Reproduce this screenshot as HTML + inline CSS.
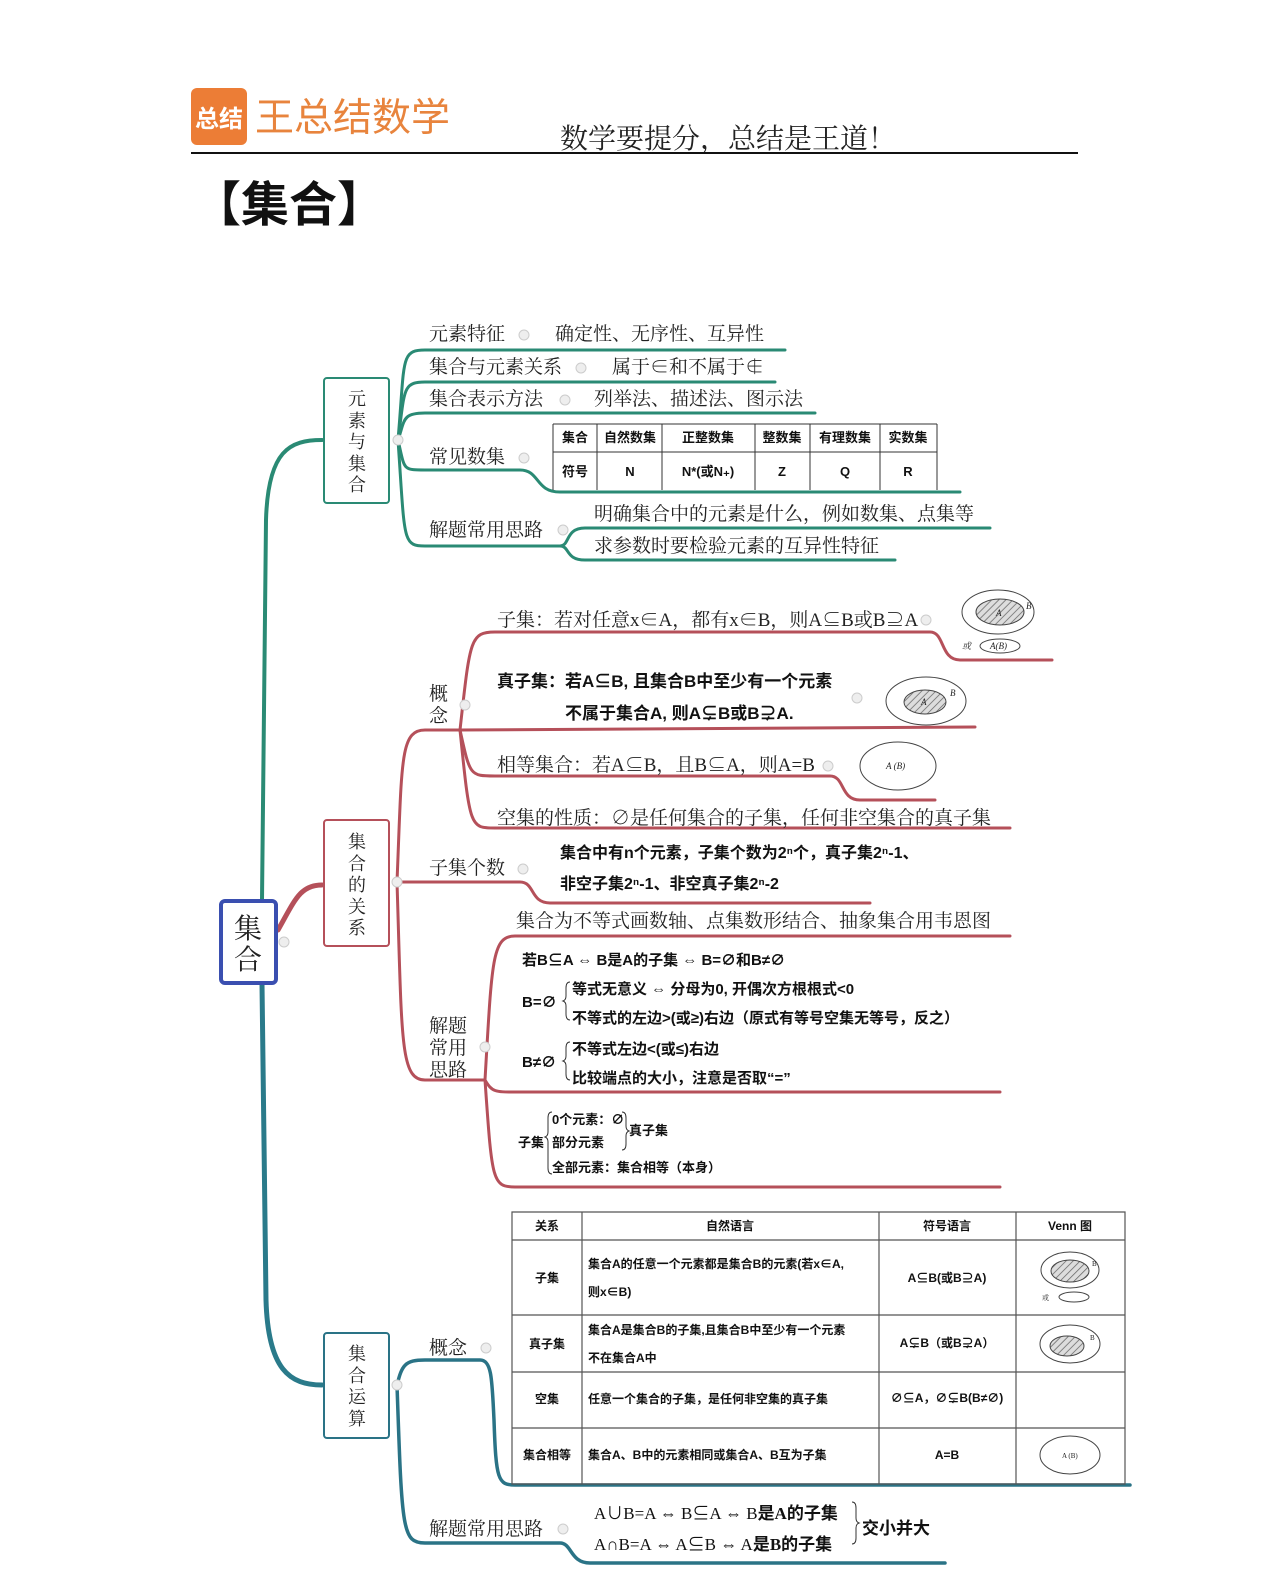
<!DOCTYPE html>
<html><head><meta charset="utf-8"><style>
html,body{margin:0;padding:0;background:#fff;}
svg{display:block;}
.s{font-family:"Liberation Serif","Noto Serif CJK SC",serif;fill:#222;}
.b{font-family:"Liberation Sans","Noto Sans CJK SC",sans-serif;font-weight:bold;fill:#111;}
</style></head><body>
<svg width="1279" height="1580" viewBox="0 0 1279 1580" xmlns="http://www.w3.org/2000/svg">
<defs>
<pattern id="h" patternUnits="userSpaceOnUse" width="5" height="5" patternTransform="rotate(45)"><rect width="5" height="5" fill="#ddd"/><line x1="0" y1="0" x2="0" y2="5" stroke="#666" stroke-width="1.5"/></pattern>
</defs>
<!-- header -->
<rect x="191" y="88" width="56" height="57" rx="6" fill="#ec7d36"/>
<text x="219" y="127" text-anchor="middle" font-size="24" fill="#fff" font-family="'Noto Sans CJK SC',sans-serif" font-weight="bold">总结</text>
<text x="255" y="131" font-size="39" fill="#e8843d" font-family="'Noto Sans CJK SC',sans-serif">王总结数学</text>
<text x="560" y="148" font-size="28" class="s">数学要提分，总结是王道！</text>
<line x1="191" y1="153" x2="1078" y2="153" stroke="#111" stroke-width="2"/>
<text x="193" y="221" font-size="48" font-weight="bold" fill="#111" font-family="'Noto Sans CJK SC',sans-serif">【集合】</text>

<!-- trunk -->
<g fill="none" stroke-linecap="round">
<path d="M322 440 C290 440 268 450 266 520 L262 900" stroke="#2a8a74" stroke-width="4"/>
<path d="M262 984 L266 1300 C268 1370 290 1385 322 1385" stroke="#2a7a8a" stroke-width="5"/>
<path d="M278 930 C295 900 300 885 322 885" stroke="#b5505a" stroke-width="5"/>

<g stroke="#2a8a74" stroke-width="3">
<path d="M398 440 C405 360 400 350 425 350 L785 350"/>
<path d="M398 440 C405 390 402 382 425 382 L775 382"/>
<path d="M398 440 C405 420 402 413 425 413 L815 413"/>
<path d="M398 440 C405 470 402 470 425 470 L520 470 C540 470 535 492 560 492 L960 492"/>
<path d="M398 440 C405 540 402 546 425 546 L560 546"/>
<path d="M560 546 C570 546 565 528 585 528 L990 528"/>
<path d="M560 546 C570 546 565 560 585 560 L895 560"/>
</g>

<g stroke="#b5505a" stroke-width="3">
<path d="M397 882 C402 760 400 730 425 730 L460 730"/>
<path d="M460 730 C470 640 470 632 495 632 L930 632 C945 632 940 660 960 660 L1052 660"/>
<path d="M460 730 L975 727"/>
<path d="M460 730 C470 776 470 776 495 776 L830 776 C845 776 840 800 860 800 L935 800"/>
<path d="M460 730 C470 828 470 828 495 828 L1010 828"/>
<path d="M397 882 L520 882 C535 882 530 903 550 903 L870 903"/>
<path d="M397 882 C402 1040 400 1080 425 1080 L485 1080"/>
<path d="M485 1080 C492 960 492 936 515 936 L1010 936"/>
<path d="M485 1080 C492 1092 495 1092 515 1092 L1000 1092"/>
<path d="M485 1080 C492 1180 492 1187 515 1187 L1000 1187"/>
</g>

<g stroke="#2a7386" stroke-width="3.5">
<path d="M397 1385 C402 1365 405 1360 425 1360 L480 1360 C492 1360 492 1380 494 1420 C496 1480 498 1485 515 1485 L1130 1485"/>
<path d="M397 1385 C402 1530 402 1543 425 1543 L560 1543 C572 1543 570 1563 590 1563 L945 1563"/>
</g>
</g>

<g fill="#eee" stroke="#ccc" stroke-width="1">
<circle cx="398" cy="440" r="5"/><circle cx="524" cy="335" r="5"/><circle cx="581" cy="368" r="5"/><circle cx="565" cy="400" r="5"/><circle cx="524" cy="458" r="5"/><circle cx="563" cy="530" r="5"/>
<circle cx="397" cy="882" r="5"/><circle cx="465" cy="705" r="5"/><circle cx="926" cy="620" r="5"/><circle cx="857" cy="698" r="5"/><circle cx="828" cy="766" r="5"/><circle cx="523" cy="869" r="5"/><circle cx="485" cy="1047" r="5"/>
<circle cx="284" cy="942" r="5"/><circle cx="397" cy="1385" r="5"/><circle cx="486" cy="1348" r="5"/><circle cx="563" cy="1529" r="5"/>
</g>

<rect x="221" y="901" width="55" height="82" rx="4" fill="#fff" stroke="#3a4fb0" stroke-width="4"/>
<text x="248" y="938" text-anchor="middle" font-size="28" class="s">集</text>
<text x="248" y="969" text-anchor="middle" font-size="28" class="s">合</text>
<rect x="324" y="378" width="65" height="125" rx="3" fill="#fff" stroke="#2a8a74" stroke-width="2"/>
<g class="s" font-size="18" text-anchor="middle"><text x="357" y="405">元</text><text x="357" y="427">素</text><text x="357" y="448">与</text><text x="357" y="470">集</text><text x="357" y="491">合</text></g>
<rect x="324" y="820" width="65" height="126" rx="3" fill="#fff" stroke="#b5505a" stroke-width="2"/>
<g class="s" font-size="18" text-anchor="middle"><text x="357" y="848">集</text><text x="357" y="870">合</text><text x="357" y="891">的</text><text x="357" y="913">关</text><text x="357" y="934">系</text></g>
<rect x="324" y="1333" width="65" height="105" rx="3" fill="#fff" stroke="#2a7386" stroke-width="2"/>
<g class="s" font-size="18" text-anchor="middle"><text x="357" y="1360">集</text><text x="357" y="1382">合</text><text x="357" y="1403">运</text><text x="357" y="1425">算</text></g>

<g class="s" font-size="19">
<text x="429" y="340">元素特征</text><text x="555" y="340">确定性、无序性、互异性</text>
<text x="429" y="373">集合与元素关系</text><text x="612" y="373">属于∈和不属于∉</text>
<text x="429" y="405">集合表示方法</text><text x="594" y="405">列举法、描述法、图示法</text>
<text x="429" y="463">常见数集</text>
<text x="429" y="536">解题常用思路</text>
<text x="594" y="520">明确集合中的元素是什么，例如数集、点集等</text>
<text x="594" y="552">求参数时要检验元素的互异性特征</text>
</g>
<g stroke="#333" stroke-width="1" fill="none">
<path d="M553 424 H937 M553 452 H937 M553 424 V490 M597 424 V490 M662 424 V490 M755 424 V490 M810 424 V490 M880 424 V490 M937 424 V490"/>
</g>
<g class="b" font-size="13" text-anchor="middle">
<text x="575" y="442">集合</text><text x="630" y="442">自然数集</text><text x="708" y="442">正整数集</text><text x="782" y="442">整数集</text><text x="845" y="442">有理数集</text><text x="908" y="442">实数集</text>
<text x="575" y="476">符号</text><text x="630" y="476">N</text><text x="708" y="476">N*(或N₊)</text><text x="782" y="476">Z</text><text x="845" y="476">Q</text><text x="908" y="476">R</text>
</g>

<g class="s" font-size="19">
<text x="429" y="700">概</text><text x="429" y="722">念</text>
<text x="497" y="626">子集：若对任意x∈A，都有x∈B，则A⊆B或B⊇A</text>
<text x="497" y="771">相等集合：若A⊆B，且B⊆A，则A=B</text>
<text x="497" y="824">空集的性质：∅是任何集合的子集，任何非空集合的真子集</text>
<text x="429" y="874">子集个数</text>
<text x="516" y="927">集合为不等式画数轴、点集数形结合、抽象集合用韦恩图</text>
<text x="429" y="1032">解题</text><text x="429" y="1054">常用</text><text x="429" y="1076">思路</text>
</g>
<g class="b" font-size="17">
<text x="497" y="687">真子集：若A⊆B, 且集合B中至少有一个元素</text>
<text x="565" y="719">不属于集合A, 则A⊊B或B⊋A.</text>
<text x="560" y="858" font-size="16">集合中有n个元素，子集个数为2ⁿ个，真子集2ⁿ-1、</text>
<text x="560" y="889" font-size="16">非空子集2ⁿ-1、非空真子集2ⁿ-2</text>
</g>
<g class="b" font-size="15">
<text x="522" y="965">若B⊆A ⇔ B是A的子集 ⇔ B=∅和B≠∅</text>
<text x="522" y="1007">B=∅</text>
<text x="572" y="994">等式无意义 ⇔ 分母为0, 开偶次方根根式&lt;0</text>
<text x="572" y="1023">不等式的左边&gt;(或≥)右边（原式有等号空集无等号，反之）</text>
<text x="522" y="1067">B≠∅</text>
<text x="572" y="1054">不等式左边&lt;(或≤)右边</text>
<text x="572" y="1083">比较端点的大小，注意是否取“=”</text>
<text x="518" y="1147" font-size="13">子集</text>
<text x="552" y="1124" font-size="13">0个元素：∅</text>
<text x="552" y="1147" font-size="13">部分元素</text>
<text x="629" y="1135" font-size="13">真子集</text>
<text x="552" y="1172" font-size="13">全部元素：集合相等（本身）</text>
</g>
<g fill="none" stroke="#333" stroke-width="1">
<path d="M570 982 q-4 0 -4 6 v8 q0 4 -3 5 q3 1 3 5 v8 q0 6 4 6"/>
<path d="M570 1042 q-4 0 -4 6 v8 q0 4 -3 5 q3 1 3 5 v8 q0 6 4 6"/>
<path d="M552 1112 q-4 0 -4 6 v14 q0 4 -3 5 q3 1 3 5 v26 q0 6 4 6"/>
<path d="M622 1112 q4 0 4 6 v8 q0 4 3 5 q-3 1 -3 5 v8 q0 6 -4 6"/>
</g>
<g fill="none" stroke="#444" stroke-width="1">
<ellipse cx="998" cy="612" rx="36" ry="22"/><ellipse cx="1000" cy="612" rx="24" ry="13" fill="url(#h)"/>
<ellipse cx="1000" cy="646" rx="20" ry="7"/>
<ellipse cx="926" cy="701" rx="40" ry="24"/><ellipse cx="925" cy="702" rx="21" ry="12" fill="url(#h)"/>
<ellipse cx="898" cy="766" rx="38" ry="24"/>
</g>
<g class="s" font-size="9" font-style="italic"><text x="1026" y="609">B</text><text x="996" y="616">A</text><text x="962" y="649">或</text><text x="990" y="649">A(B)</text><text x="950" y="696">B</text><text x="921" y="705">A</text><text x="886" y="769">A (B)</text></g>

<g class="s" font-size="19"><text x="429" y="1354">概念</text><text x="429" y="1535">解题常用思路</text></g>
<g fill="none" stroke="#555" stroke-width="1.2">
<path d="M512 1212 H1125 V1484 H512 Z M512 1240 H1125 M512 1315 H1125 M512 1372 H1125 M512 1428 H1125 M582 1212 V1484 M879 1212 V1484 M1016 1212 V1484"/>
</g>
<g class="b" font-size="12" text-anchor="middle" fill="#333">
<text x="547" y="1230">关系</text><text x="730" y="1230">自然语言</text><text x="947" y="1230">符号语言</text><text x="1070" y="1230">Venn 图</text>
<text x="547" y="1282">子集</text><text x="547" y="1348">真子集</text><text x="547" y="1403">空集</text><text x="547" y="1459">集合相等</text>
<text x="947" y="1282">A⊆B(或B⊇A)</text><text x="947" y="1347">A⊊B（或B⊋A）</text><text x="947" y="1402">∅⊆A，∅⊊B(B≠∅)</text><text x="947" y="1459">A=B</text>
</g>
<g class="b" font-size="12" fill="#333">
<text x="588" y="1268">集合A的任意一个元素都是集合B的元素(若x∈A,</text>
<text x="588" y="1296">则x∈B)</text>
<text x="588" y="1334">集合A是集合B的子集,且集合B中至少有一个元素</text>
<text x="588" y="1362">不在集合A中</text>
<text x="588" y="1403">任意一个集合的子集，是任何非空集的真子集</text>
<text x="588" y="1459">集合A、B中的元素相同或集合A、B互为子集</text>
</g>
<g fill="none" stroke="#444" stroke-width="1">
<ellipse cx="1070" cy="1270" rx="29" ry="18"/><ellipse cx="1070" cy="1271" rx="19" ry="11" fill="url(#h)"/><ellipse cx="1074" cy="1297" rx="15" ry="5"/>
<ellipse cx="1070" cy="1344" rx="30" ry="19"/><ellipse cx="1067" cy="1346" rx="17" ry="10" fill="url(#h)"/>
<ellipse cx="1070" cy="1455" rx="30" ry="19"/>
</g>
<g class="s" font-size="7"><text x="1092" y="1266">B</text><text x="1090" y="1340">B</text><text x="1062" y="1458">A (B)</text><text x="1042" y="1300">或</text></g>
<g class="b" font-size="17">
<text x="594" y="1519" font-weight="normal" font-family="'Liberation Serif','Noto Sans CJK SC',serif">A∪B=A ⇔ B⊆A ⇔ B<tspan font-weight="bold">是A的子集</tspan></text>
<text x="594" y="1550" font-weight="normal" font-family="'Liberation Serif','Noto Sans CJK SC',serif">A∩B=A ⇔ A⊆B ⇔ A<tspan font-weight="bold">是B的子集</tspan></text>
<text x="862" y="1534">交小并大</text>
</g>
<path d="M852 1502 q4 0 4 6 v10 q0 4 3 5 q-3 1 -3 5 v10 q0 6 -4 6" fill="none" stroke="#333" stroke-width="1"/>
</svg>
</body></html>
